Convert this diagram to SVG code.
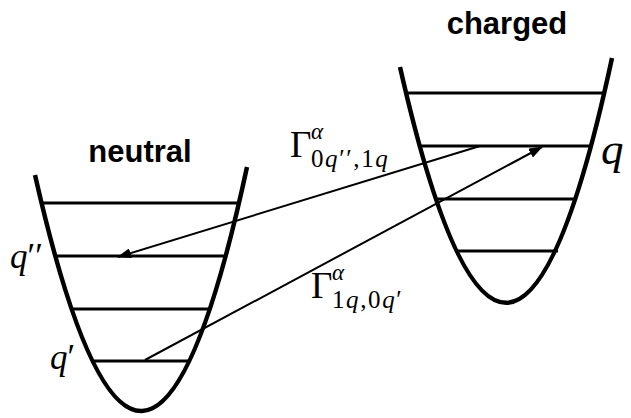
<svg xmlns="http://www.w3.org/2000/svg" width="631" height="418" viewBox="0 0 631 418">
<style>
.well{fill:none;stroke:#000;stroke-width:4.5;stroke-linecap:butt}
.lvl{stroke:#000;stroke-width:3}
.arr{stroke:#000;stroke-width:2;fill:none}
.title{font-family:"Liberation Sans",Arial,sans-serif;font-weight:bold;font-size:31px;fill:#000}
.m{font-family:"Liberation Serif","Times New Roman",serif;fill:#000}
.i{font-style:italic}
.sup{font-size:23px;font-style:italic}
.sub{font-size:25px;letter-spacing:1.6px}
</style>
<defs>
<marker id="ah" viewBox="0 0 14 10" refX="13" refY="5" markerWidth="14" markerHeight="10" markerUnits="userSpaceOnUse" orient="auto">
<path d="M0,0 L14,5 L0,10 Z" fill="#000"/>
</marker>
</defs>
<rect width="631" height="418" fill="#fff"/>
<g id="neutral">
<path class="well" d="M35,175 Q143,651 247,167"/>
<line class="lvl" x1="42" y1="203" x2="240" y2="203"/>
<line class="lvl" x1="55" y1="256" x2="225" y2="256"/>
<line class="lvl" x1="71" y1="309" x2="210" y2="309"/>
<line class="lvl" x1="94" y1="361" x2="188" y2="361"/>
<text class="title" x="140" y="162" text-anchor="middle">neutral</text>
<text class="m i" x="10" y="268" font-size="35">q<tspan font-style="normal">′′</tspan></text>
<text class="m i" x="50" y="369" font-size="35">q<tspan font-style="normal">′</tspan></text>
</g>
<g id="charged">
<path class="well" d="M400,67 Q508,543 612,58"/>
<line class="lvl" x1="408" y1="93" x2="604" y2="93"/>
<line class="lvl" x1="421" y1="146" x2="591" y2="146"/>
<line class="lvl" x1="435" y1="199" x2="576" y2="199"/>
<line class="lvl" x1="456" y1="251" x2="558" y2="251"/>
<text class="title" x="507" y="34" text-anchor="middle">charged</text>
<text class="m i" x="601" y="164" font-size="45">q</text>
</g>
<g id="connectors">
<line class="arr" x1="480" y1="146" x2="118" y2="257" marker-end="url(#ah)"/>
<line class="arr" x1="145" y1="360" x2="542" y2="147" marker-end="url(#ah)"/>
</g>
<g id="labels">
<text class="m" x="290" y="157" font-size="37">Γ<tspan class="sup" x="311" y="139">α</tspan><tspan class="sub" x="311" y="167">0<tspan font-style="italic">q</tspan>′′,1<tspan font-style="italic">q</tspan></tspan></text>
<text class="m" x="311" y="298" font-size="37">Γ<tspan class="sup" x="332" y="280">α</tspan><tspan class="sub" x="332" y="308">1<tspan font-style="italic">q</tspan>,0<tspan font-style="italic">q</tspan>′</tspan></text>
</g>
</svg>
